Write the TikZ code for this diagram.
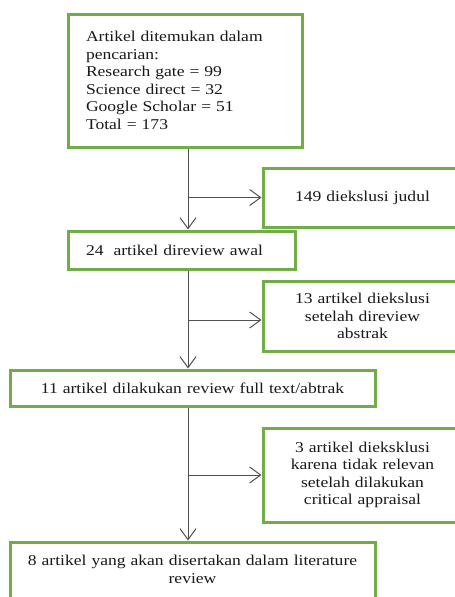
\documentclass[tikz,border=0pt]{standalone}
\usepackage{fontspec}
\setmainfont{Liberation Serif}[FakeStretch=1.17]
\usetikzlibrary{arrows.meta,calc}
\definecolor{boxgreen}{RGB}{112,173,71}
\definecolor{linegray}{RGB}{80,80,80}
\begin{document}
\begin{tikzpicture}[x=1pt,y=-1pt,
  box/.style={draw=boxgreen, line width=3pt, fill=white, inner sep=0pt,
    font=\fontsize{15}{17.5}\selectfont, text=black!90, anchor=center},
  flow/.style={draw=linegray, line width=1pt, -{Straight Barb[length=11pt,width=16pt,line width=1pt]}},
  plain/.style={draw=linegray, line width=1pt}]
\useasboundingbox (0,0) rectangle (455,597);
\clip (0,0) rectangle (455,597);
\fill[white] (0,0) rectangle (455,597);
\coordinate (tx) at (188,0);
\node[box, minimum width=234pt, minimum height=133pt, text width=198pt, align=left] (b1) at (185,80.5)
  {Artikel ditemukan dalam\\pencarian:\\Research gate = 99\\Science direct = 32\\Google Scholar = 51\\Total = 173};
\node[box, minimum width=199pt, minimum height=59pt, text width=199pt, align=center] (b2) at (362.5,197.5)
  {149 diekslusi judul};
\node[box, minimum width=227pt, minimum height=38pt, text width=191pt, align=left] (b3) at (181.5,250)
  {24\ \ artikel direview awal};
\node[box, minimum width=199pt, minimum height=70pt, text width=199pt, align=center] (b4) at (362.5,316)
  {13 artikel diekslusi\\setelah direview\\abstrak};
\node[box, minimum width=365pt, minimum height=36pt, text width=365pt, align=center] (b5) at (192.5,388)
  {11 artikel dilakukan review full text/abtrak};
\node[box, minimum width=199pt, minimum height=94pt, text width=199pt, align=center] (b6) at (362.5,475)
  {3 artikel dieksklusi\\karena tidak relevan\\setelah dilakukan\\critical appraisal};
\node[box, minimum width=365pt, minimum height=72pt, text width=365pt, align=center] (b7) at (192.5,578)
  {8 artikel yang akan disertakan dalam literature\\review\\\mbox{}};
\draw[flow] (b1.south -| tx) -- (b3.north -| tx);
\draw[flow] (b3.south -| tx) -- (b5.north -| tx);
\draw[flow] (b5.south -| tx) -- (b7.north -| tx);
\draw[flow] (tx |- b2.west) -- (b2.west);
\draw[flow] ($(tx |- b4.west)+(0,4)$) -- ($(b4.west)+(0,4)$);
\draw[flow] (tx |- b6.west) -- (b6.west);
\end{tikzpicture}
\end{document}
